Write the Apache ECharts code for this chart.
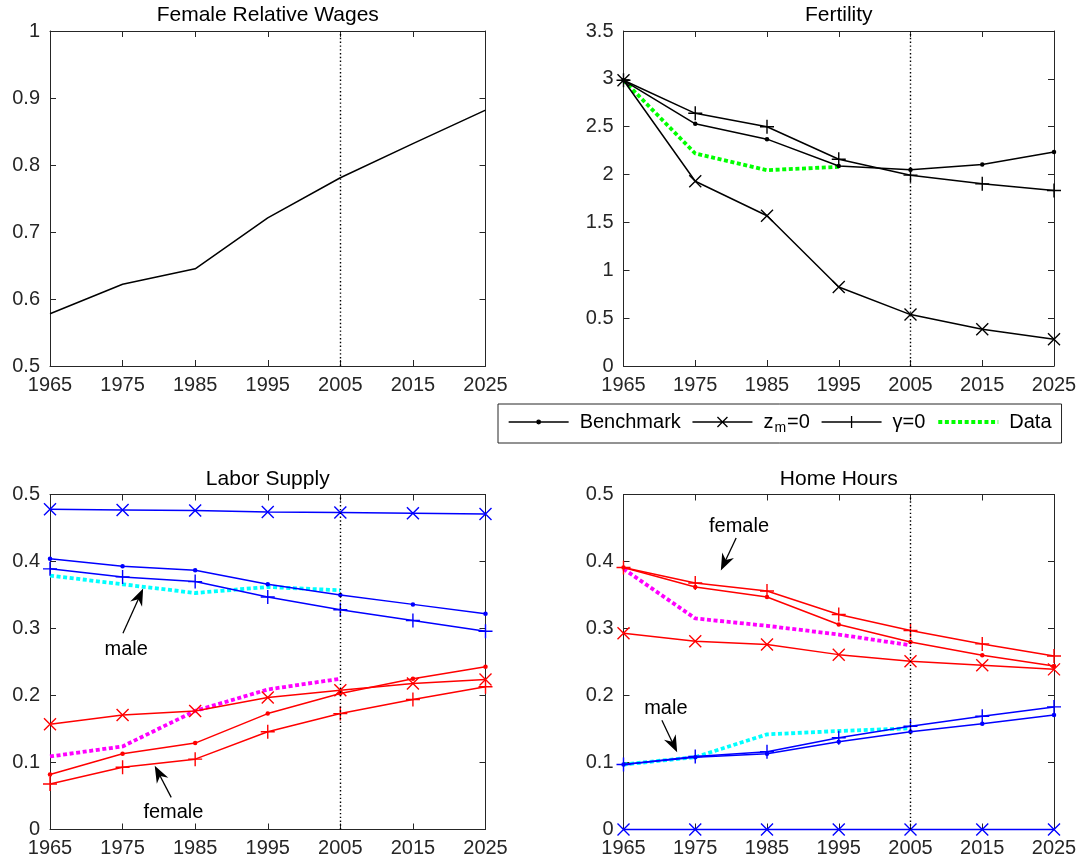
<!DOCTYPE html>
<html><head><meta charset="utf-8">
<script src="https://cdn.jsdelivr.net/npm/echarts@6/dist/echarts.min.js"></script>
<style>html,body{margin:0;padding:0;background:#fff}#c{width:1092px;height:867px}</style>
</head><body><div id="c"></div>
<script>
// ---------------- data ----------------
const years = [1965, 1975, 1985, 1995, 2005, 2015, 2025];
const dataYears = [1965, 1975, 1985, 1995, 2005];
const fertDataYears = [1965, 1975, 1985, 1995];

const wageRatio = [0.578, 0.622, 0.645, 0.721, 0.781, 0.832, 0.882];

const fertBench  = [2.985, 2.53, 2.37, 2.09, 2.05, 2.105, 2.235];
const fertZm0    = [2.985, 1.93, 1.57, 0.826, 0.537, 0.383, 0.279];
const fertGamma0 = [2.985, 2.64, 2.50, 2.16, 1.994, 1.903, 1.834];
const fertData   = [2.985, 2.22, 2.046, 2.081];

const lsMaleBench  = [0.404, 0.393, 0.387, 0.366, 0.350, 0.336, 0.322];
const lsMaleZm0    = [0.478, 0.477, 0.476, 0.474, 0.473, 0.472, 0.471];
const lsMaleGamma0 = [0.389, 0.377, 0.370, 0.347, 0.328, 0.312, 0.296];
const lsMaleData   = [0.379, 0.366, 0.353, 0.362, 0.357];
const lsFemBench   = [0.082, 0.113, 0.129, 0.173, 0.203, 0.225, 0.243];
const lsFemZm0     = [0.157, 0.171, 0.177, 0.197, 0.208, 0.218, 0.224];
const lsFemGamma0  = [0.068, 0.093, 0.105, 0.146, 0.173, 0.194, 0.213];
const lsFemData    = [0.109, 0.124, 0.177, 0.209, 0.225];

const hhFemBench   = [0.391, 0.362, 0.347, 0.306, 0.280, 0.260, 0.244];
const hhFemGamma0  = [0.391, 0.368, 0.356, 0.321, 0.297, 0.277, 0.259];
const hhFemZm0     = [0.293, 0.281, 0.276, 0.261, 0.251, 0.245, 0.239];
const hhFemData    = [0.389, 0.315, 0.304, 0.291, 0.275];
const hhMaleBench  = [0.097, 0.108, 0.113, 0.131, 0.146, 0.158, 0.171];
const hhMaleGamma0 = [0.097, 0.109, 0.116, 0.137, 0.154, 0.169, 0.183];
const hhMaleZm0    = [0, 0, 0, 0, 0, 0, 0];
const hhMaleData   = [0.097, 0.108, 0.142, 0.147, 0.151];

const titles = ['Female Relative Wages', 'Fertility', 'Labor Supply', 'Home Hours'];
const legendNames = ['Benchmark', 'z_m=0', '\u03b3=0', 'Data'];
const projectionYear = 2005;

// ---------------- layout / styles ----------------
const FONT = '"Liberation Sans", Arial, Helvetica, sans-serif';
const AX = '#262626';
const grids = [
  {left: 50, top: 31, width: 435.5, height: 335},
  {left: 623.5, top: 31, width: 430.5, height: 335},
  {left: 50, top: 494.5, width: 435.5, height: 335},
  {left: 623.5, top: 494.5, width: 430.5, height: 335}
];
const yRanges = [[0.5, 1, 0.1], [0, 3.5, 0.5], [0, 0.5, 0.1], [0, 0.5, 0.1]];
const titleTops = [5, 5, 469, 469];

const xAxes = [], yAxes = [];
grids.forEach((g, i) => {
  const base = {
    type: 'value', gridIndex: i, min: years[0], max: years[years.length - 1], interval: 10,
    axisLine: {show: true, onZero: false, lineStyle: {color: AX, width: 1}},
    axisTick: {show: true, inside: true, length: 6, lineStyle: {color: AX, width: 1}},
    splitLine: {show: false},
    axisLabel: {show: true, color: AX, fontSize: 20, fontFamily: FONT, margin: 9, formatter: v => String(v)}
  };
  xAxes.push(Object.assign({}, base, {position: 'bottom'}));
  xAxes.push(Object.assign({}, base, {position: 'top', axisLabel: {show: false}}));
  const r = yRanges[i];
  const yb = {
    type: 'value', gridIndex: i, min: r[0], max: r[1], interval: r[2],
    axisLine: {show: true, onZero: false, lineStyle: {color: AX, width: 1}},
    axisTick: {show: true, inside: true, length: 6, lineStyle: {color: AX, width: 1}},
    splitLine: {show: false},
    axisLabel: {show: true, color: AX, fontSize: 20, fontFamily: FONT, margin: 10}
  };
  yAxes.push(Object.assign({}, yb, {position: 'left'}));
  yAxes.push(Object.assign({}, yb, {position: 'right', axisLabel: {show: false}}));
});

const X_SYM = 'path://M0,0L10,10M10,0L0,10';
const P_SYM = 'path://M5,0L5,10M0,5L10,5';
const ARROW = 'path://M6,0L12,16L6,11L0,16Z';

function pairs(xs, vals) { return vals.map((v, i) => [xs[i], v]); }

function mk(name, g, xs, vals, color, kind) {
  const s = {
    type: 'line', name, xAxisIndex: 2 * g, yAxisIndex: 2 * g,
    data: pairs(xs, vals), clip: false, silent: true, animation: false,
    emphasis: {disabled: true},
    lineStyle: {color, width: 1.5, type: 'solid'},
    itemStyle: {color, borderColor: color, borderWidth: 1.4},
    symbol: 'none', showSymbol: true, showAllSymbol: true
  };
  if (kind === 'bench') { s.symbol = 'circle'; s.symbolSize = 4.5; s.itemStyle.borderWidth = 0; }
  if (kind === 'zm') { s.symbol = X_SYM; s.symbolSize = 12; }
  if (kind === 'gam') { s.symbol = P_SYM; s.symbolSize = 14; }
  if (kind === 'data') { s.lineStyle = {color, width: 3.8, type: [4, 2.6]}; s.z = 1; }
  return s;
}

function vline() {
  return {
    silent: true, animation: false, symbol: ['none', 'none'],
    label: {show: false},
    lineStyle: {color: '#000', width: 1.4, type: [1.4, 2.4]},
    data: [{xAxis: projectionYear}]
  };
}
function arrows(list) {
  return {
    silent: true, animation: false, symbol: ['none', ARROW], symbolSize: [13, 17],
    label: {show: false},
    itemStyle: {color: '#000'},
    lineStyle: {color: '#000', width: 1.3, type: 'solid'},
    data: list.map(a => [{coord: a[0]}, {coord: a[1]}])
  };
}
function texts(list) {
  return {
    silent: true, animation: false, symbol: 'rect', symbolSize: 1,
    itemStyle: {color: 'rgba(0,0,0,0)'},
    label: {show: true, position: 'inside', color: '#000', fontSize: 20, fontFamily: FONT},
    data: list.map(t => ({name: t[0], coord: t[1], label: {formatter: t[0]}}))
  };
}

const BLUE = '#0000ff', RED = '#ff0000', GREEN = '#00ff00', CYAN = '#00ffff', MAG = '#ff00ff';

const series = [];
// Fertility (legend series)
const fb = mk(legendNames[0], 1, years, fertBench, '#000', 'bench'); fb.markLine = vline();
series.push(mk(legendNames[3], 1, fertDataYears, fertData, GREEN, 'data'));
series.push(fb);
series.push(mk(legendNames[1], 1, years, fertZm0, '#000', 'zm'));
series.push(mk(legendNames[2], 1, years, fertGamma0, '#000', 'gam'));

// Female relative wages
const w = mk('Wage ratio', 0, years, wageRatio, '#000', 'plain'); w.markLine = vline();
series.push(w);

// Labor supply
const lsmb = mk('LS male bench', 2, years, lsMaleBench, BLUE, 'bench'); lsmb.markLine = vline();
series.push(mk('LS male data', 2, dataYears, lsMaleData, CYAN, 'data'));
series.push(mk('LS female data', 2, dataYears, lsFemData, MAG, 'data'));
series.push(lsmb);
const lsmz = mk('LS male zm0', 2, years, lsMaleZm0, BLUE, 'zm');
lsmz.markLine = arrows([[[1975.05, 0.293], [1977.35, 0.348]], [[1981.7, 0.048], [1979.97, 0.084]]]);
lsmz.markPoint = texts([['male', [1975.5, 0.269]], ['female', [1982.0, 0.0254]]]);
series.push(lsmz);
series.push(mk('LS male gamma0', 2, years, lsMaleGamma0, BLUE, 'gam'));
series.push(mk('LS female bench', 2, years, lsFemBench, RED, 'bench'));
series.push(mk('LS female zm0', 2, years, lsFemZm0, RED, 'zm'));
series.push(mk('LS female gamma0', 2, years, lsFemGamma0, RED, 'gam'));

// Home hours
const hhfb = mk('HH female bench', 3, years, hhFemBench, RED, 'bench'); hhfb.markLine = vline();
series.push(mk('HH female data', 3, dataYears, hhFemData, MAG, 'data'));
series.push(mk('HH male data', 3, dataYears, hhMaleData, CYAN, 'data'));
series.push(hhfb);
const hhfz = mk('HH female zm0', 3, years, hhFemZm0, RED, 'zm');
hhfz.markLine = arrows([[[1980.7, 0.435], [1979.07, 0.398]], [[1970.35, 0.163], [1971.97, 0.1266]]]);
hhfz.markPoint = texts([['female', [1981.1, 0.453]], ['male', [1970.9, 0.181]]]);
series.push(hhfz);
series.push(mk('HH female gamma0', 3, years, hhFemGamma0, RED, 'gam'));
series.push(mk('HH male bench', 3, years, hhMaleBench, BLUE, 'bench'));
series.push(mk('HH male zm0', 3, years, hhMaleZm0, BLUE, 'zm'));
series.push(mk('HH male gamma0', 3, years, hhMaleGamma0, BLUE, 'gam'));

const ICON_BENCH = 'path://M0,0M60,12M0,6L60,6M28.2,6a1.8,1.8 0 1,0 3.6,0a1.8,1.8 0 1,0 -3.6,0';
const ICON_X = 'path://M0,0M60,12M0,6L60,6M25,1L35,11M35,1L25,11';
const ICON_P = 'path://M0,0M60,12M0,6L60,6M30,0L30,12M24,6L36,6';
const legIS = {color: '#000', borderColor: '#000', borderWidth: 1.3};

const option = {
  backgroundColor: '#fff',
  animation: false,
  title: titles.map((t, i) => ({
    text: t, left: grids[i].left + grids[i].width / 2, top: titleTops[i], textAlign: 'center', padding: 0,
    textStyle: {fontSize: 21, fontWeight: 'normal', color: '#000', fontFamily: FONT}
  })),
  grid: grids.map(g => Object.assign({containLabel: false, outerBoundsMode: 'none', show: false}, g)),
  xAxis: xAxes,
  yAxis: yAxes,
  legend: {
    show: true, orient: 'horizontal', left: 498, top: 404,
    padding: [8, 10, 8, 10], itemGap: 11, itemWidth: 60, itemHeight: 12,
    borderColor: AX, borderWidth: 1, backgroundColor: '#fff',
    selectedMode: false,
    textStyle: {
      fontSize: 20, color: '#000', fontFamily: FONT, padding: [0, 0, 0, 6],
      rich: {
        n: {fontSize: 20, fontFamily: FONT, color: '#000', padding: [0, 0, 0, 0]},
        s: {fontSize: 14, fontFamily: FONT, color: '#000', padding: [12, 1, 0, 1]}
      }
    },
    formatter: name => name === 'z_m=0' ? '{n|z}{s|m}{n|=0}' : name,
    data: [
      {name: legendNames[0], icon: ICON_BENCH, itemStyle: legIS},
      {name: legendNames[1], icon: ICON_X, itemStyle: legIS},
      {name: legendNames[2], icon: ICON_P, itemStyle: legIS},
      {name: legendNames[3], itemStyle: {color: 'rgba(0,0,0,0)', borderWidth: 0}, lineStyle: {width: 3.8}}
    ]
  },
  series
};

const chart = echarts.init(document.getElementById('c'), null, {renderer: 'canvas'});
chart.setOption(option);
</script>
</body></html>
